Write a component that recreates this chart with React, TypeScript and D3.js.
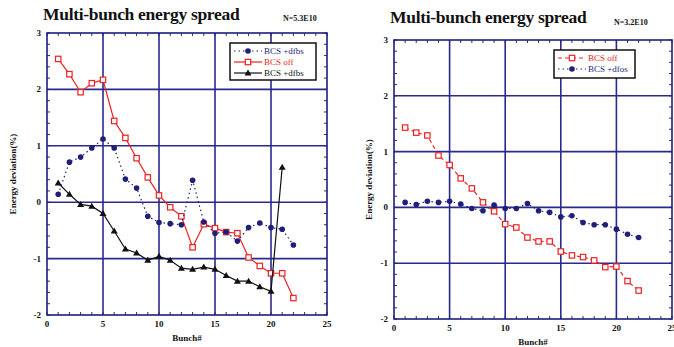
import React from "react";
import * as d3 from "d3";

const bunchesL = d3.range(1, 23);
const dfbsL = [0.14, 0.71, 0.8, 0.96, 1.12, 0.96, 0.41, 0.25, -0.25, -0.36, -0.38, -0.4, 0.39, -0.35, -0.55, -0.53, -0.69, -0.45, -0.37, -0.45, -0.48, -0.76];
const offL = [2.54, 2.27, 1.95, 2.11, 2.17, 1.44, 1.14, 0.78, 0.44, 0.12, -0.09, -0.25, -0.8, -0.39, -0.46, -0.53, -0.55, -0.98, -1.13, -1.26, -1.26, -1.7];
const bunchesB = d3.range(1, 22);
const dfbs2L = [0.34, 0.14, -0.04, -0.07, -0.2, -0.51, -0.83, -0.9, -1.03, -0.96, -1.03, -1.17, -1.19, -1.15, -1.19, -1.3, -1.4, -1.4, -1.5, -1.58, 0.62];

const bunchesR = d3.range(1, 23);
const offR = [1.43, 1.34, 1.29, 0.93, 0.76, 0.52, 0.34, 0.09, -0.07, -0.3, -0.36, -0.54, -0.61, -0.61, -0.79, -0.86, -0.89, -0.95, -1.07, -1.06, -1.32, -1.49];
const dfbsR = [0.09, 0.05, 0.11, 0.09, 0.11, 0.06, -0.02, -0.06, 0.04, -0.02, -0.02, 0.07, -0.06, -0.09, -0.17, -0.15, -0.27, -0.31, -0.31, -0.39, -0.48, -0.54];

const xTicks = [0, 5, 10, 15, 20, 25];
const yTicks = [-2, -1, 0, 1, 2, 3];
const title = "Multi-bunch energy spread";
const yLabel = "Energy deviation(%)";
const xLabel = "Bunch#";

const NAVY = "#1f1f7a";
const GRID = "#2a2a8c";
const RED = "#ee2222";
const FONT = "'Liberation Serif', 'DejaVu Serif', serif";

type Series = { xs: number[]; ys: number[]; color: string; dash: string; marker: "circle" | "square" | "triangle"; name: string };

function Marker({ kind, x, y, color }: { kind: string; x: number; y: number; color: string }) {
  if (kind === "circle") return <circle cx={x} cy={y} r={2.8} fill={color} />;
  if (kind === "square") return <rect x={x - 2.7} y={y - 2.7} width={5.4} height={5.4} fill="white" stroke={color} strokeWidth={1.2} />;
  return <path d={`M${x},${y - 3.5}L${x + 3.5},${y + 2.5}L${x - 3.5},${y + 2.5}Z`} fill={color} />;
}

function Panel({ left, right, top, bottom, series, legend, nLabel, titleX, titleY, legendBox, yLabelX }: any) {
  const x = d3.scaleLinear().domain([0, 25]).range([left, right]);
  const y = d3.scaleLinear().domain([-2, 3]).range([bottom, top]);
  const minorX = d3.range(0, 26, 1);
  const minorY = d3.range(-2, 3.01, 0.2);
  const line = d3.line<[number, number]>().x((d) => x(d[0])).y((d) => y(d[1]));
  return (
    <g>
      <text x={titleX} y={titleY} fontFamily={FONT} fontWeight="bold" fontSize={17.5} fill="#111" letterSpacing={-0.3}>{title}</text>
      <text x={nLabel.x} y={nLabel.y} fontFamily={FONT} fontWeight="bold" fontSize={8} fill="#111">{nLabel.text}</text>
      {[5, 10, 15, 20].map((v) => (
        <line key={"gx" + v} x1={x(v)} x2={x(v)} y1={top} y2={bottom} stroke={GRID} strokeWidth={1.6} />
      ))}
      {[-1, 0, 1, 2].map((v) => (
        <line key={"gy" + v} x1={left} x2={right} y1={y(v)} y2={y(v)} stroke={GRID} strokeWidth={1.6} />
      ))}
      {minorX.map((v) => (
        <g key={"mx" + v}>
          <line x1={x(v)} x2={x(v)} y1={bottom} y2={bottom - 3} stroke={GRID} strokeWidth={1} />
          <line x1={x(v)} x2={x(v)} y1={top} y2={top + 3} stroke={GRID} strokeWidth={1} />
        </g>
      ))}
      {minorY.map((v, i) => (
        <g key={"my" + i}>
          <line x1={left} x2={left + 3} y1={y(v)} y2={y(v)} stroke={GRID} strokeWidth={1} />
          <line x1={right} x2={right - 3} y1={y(v)} y2={y(v)} stroke={GRID} strokeWidth={1} />
        </g>
      ))}
      <rect x={left} y={top} width={right - left} height={bottom - top} fill="none" stroke={NAVY} strokeWidth={1.6} />
      {xTicks.map((v) => (
        <text key={"xt" + v} x={x(v)} y={bottom + 12} textAnchor="middle" fontFamily={FONT} fontWeight="bold" fontSize={9} fill="#111">{v}</text>
      ))}
      {yTicks.map((v) => (
        <text key={"yt" + v} x={left - 6} y={y(v) + 3} textAnchor="end" fontFamily={FONT} fontWeight="bold" fontSize={9} fill="#111">{v}</text>
      ))}
      <text x={(left + right) / 2} y={bottom + 26} textAnchor="middle" fontFamily={FONT} fontWeight="bold" fontSize={9} fill="#111">{xLabel}</text>
      <text transform={`translate(${yLabelX},${(top + bottom) / 2}) rotate(-90)`} textAnchor="middle" fontFamily={FONT} fontWeight="bold" fontSize={9} fill="#111">{yLabel}</text>
      {series.map((s: Series, i: number) => {
        const pts = s.xs.map((v, k) => [v, s.ys[k]] as [number, number]);
        return (
          <g key={"s" + i}>
            <path d={line(pts) || ""} fill="none" stroke={s.color} strokeWidth={1.2} strokeDasharray={s.dash} />
            {pts.map((p, k) => (
              <Marker key={k} kind={s.marker} x={x(p[0])} y={y(p[1])} color={s.color} />
            ))}
          </g>
        );
      })}
      <rect x={legendBox.x} y={legendBox.y} width={legendBox.w} height={legendBox.h} fill="white" stroke="#111" strokeWidth={1.5} />
      {legend.map((s: Series, i: number) => {
        const ly = legendBox.y + 8 + i * 11;
        const lx = legendBox.x + 4;
        return (
          <g key={"l" + i}>
            <line x1={lx} x2={lx + 28} y1={ly} y2={ly} stroke={s.color} strokeWidth={1.2} strokeDasharray={s.dash} />
            <Marker kind={s.marker} x={lx + 14} y={ly} color={s.color} />
            <text x={lx + 30} y={ly + 3} fontFamily={FONT} fontSize={9} fill={s.color}>{s.name}</text>
          </g>
        );
      })}
    </g>
  );
}

export default function App() {
  const sNavyL: Series = { xs: bunchesL, ys: dfbsL, color: NAVY, dash: "1.5,3", marker: "circle", name: "BCS +dfbs" };
  const sRedL: Series = { xs: bunchesL, ys: offL, color: RED, dash: "", marker: "square", name: "BCS off" };
  const sBlackL: Series = { xs: bunchesB, ys: dfbs2L, color: "#111", dash: "", marker: "triangle", name: "BCS +dfbs" };
  const sRedR: Series = { xs: bunchesR, ys: offR, color: RED, dash: "4,3", marker: "square", name: "BCS off" };
  const sNavyR: Series = { xs: bunchesR, ys: dfbsR, color: NAVY, dash: "1.5,3", marker: "circle", name: "BCS +dfos" };
  return (
    <svg width={674} height={347} style={{ position: "absolute", left: 0, top: 0, background: "white" }}>
      <Panel left={47} right={327} top={33} bottom={315} yLabelX={16}
        series={[sRedL, sBlackL, sNavyL]} legend={[sNavyL, sRedL, sBlackL]}
        titleX={43} titleY={20} nLabel={{ x: 283, y: 21, text: "N=5.3E10" }}
        legendBox={{ x: 230, y: 43, w: 86, h: 37 }} />
      <Panel left={394} right={672} top={40} bottom={319} yLabelX={372}
        series={[sRedR, sNavyR]} legend={[sRedR, sNavyR]}
        titleX={390} titleY={23} nLabel={{ x: 614, y: 25, text: "N=3.2E10" }}
        legendBox={{ x: 554, y: 50, w: 81, h: 28 }} />
    </svg>
  );
}
